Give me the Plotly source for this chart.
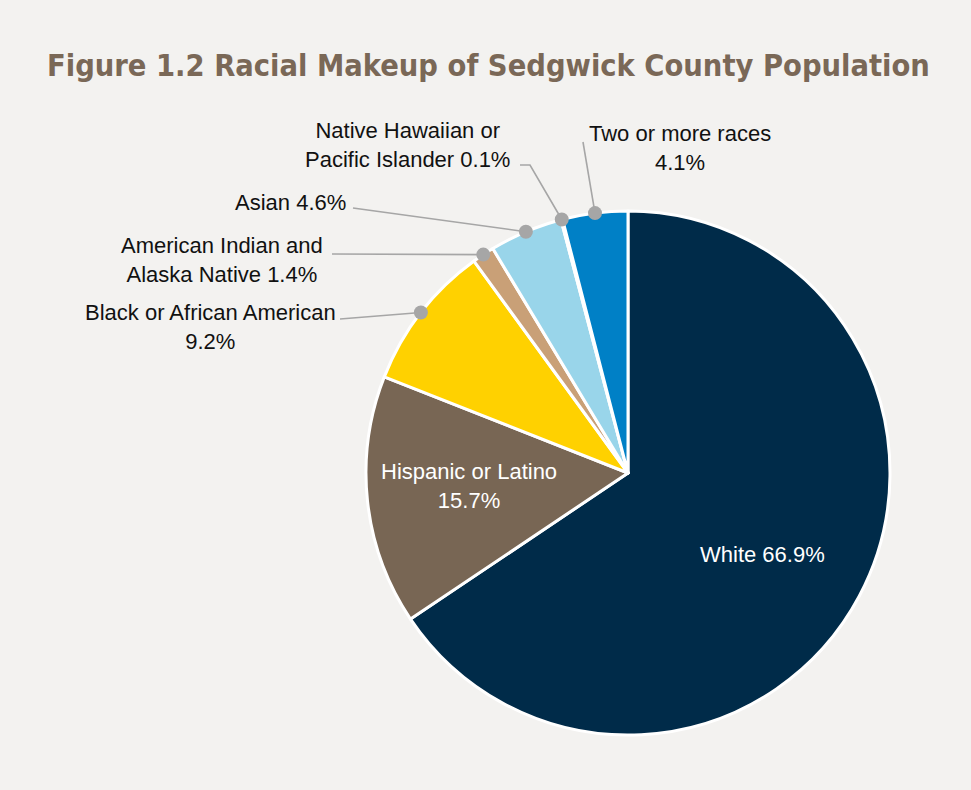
import math
import plotly.graph_objects as go

# ---- data ----
categories = ["White", "Hispanic or Latino", "Black or African American",
              "American Indian and Alaska Native", "Asian",
              "Native Hawaiian or Pacific Islander", "Two or more races"]
percent = [66.9, 15.7, 9.2, 1.4, 4.6, 0.1, 4.1]
label_lines = [["White 66.9%"],
               ["Hispanic or Latino", "15.7%"],
               ["Black or African American", "9.2%"],
               ["American Indian and", "Alaska Native 1.4%"],
               ["Asian 4.6%"],
               ["Native Hawaiian or", "Pacific Islander 0.1%"],
               ["Two or more races", "4.1%"]]
colors = ["#002b49", "#786654", "#ffd100", "#c9a077", "#99d5ea", "#4f6e8a", "#0080c6"]

# ---- layout constants (pixels) ----
W, H = 971, 790
CX, CY, R = 628, 473, 262
BG = "#f3f2f0"
LABEL_FONT = "Liberation Sans, Arial"
LABEL_SIZE = 22

def px(x):
    return x / W

def py(y):
    return 1 - y / H

fig = go.Figure(go.Pie(
    labels=categories, values=percent, sort=False, direction="clockwise",
    rotation=0, textinfo="none", hoverinfo="skip",
    marker=dict(colors=colors, line=dict(color="white", width=3)),
    domain=dict(x=[px(CX - R), px(CX + R)], y=[py(CY + R), py(CY - R)]),
    showlegend=False,
))

total = sum(percent)
mids = []
c = 0
for v in percent:
    mids.append((c + v / 2) / total * 360)
    c += v

def polar(theta, r):
    t = math.radians(theta)
    return CX + r * math.sin(t), CY - r * math.cos(t)

annotations = []
shapes = []

# inside labels (radial fraction, angular nudge)
inside = {0: (0.60, 3.0), 1: (0.61, 1.5)}
for i, (frac, nudge) in inside.items():
    x, y = polar(mids[i] + nudge, R * frac)
    annotations.append(dict(x=px(x), y=py(y), xref="paper", yref="paper",
                            text="<br>".join(label_lines[i]), showarrow=False,
                            font=dict(family=LABEL_FONT, size=LABEL_SIZE, color="white"),
                            align="center", xanchor="center", yanchor="middle"))

# outside labels: text centre and leader-line start (pixels)
outside = {
    2: dict(c=(210, 327), path=[(340, 319)]),
    3: dict(c=(222, 260), path=[(332, 254)]),
    4: dict(c=(290, 202), path=[(353, 208)]),
    5: dict(c=(407, 145), path=[(520, 165), (530, 165)]),
    6: dict(c=(680, 148), path=[(583, 142)]),
}
LINE = "#a6a6a6"
for i, o in outside.items():
    cxl, cyl = o["c"]
    annotations.append(dict(x=px(cxl), y=py(cyl), xref="paper", yref="paper",
                            text="<br>".join(label_lines[i]), showarrow=False,
                            font=dict(family=LABEL_FONT, size=LABEL_SIZE, color="#111111"),
                            align="center", xanchor="center", yanchor="middle"))
    dx, dy = polar(mids[i], R)
    pts = o["path"] + [(dx, dy)]
    path = "M " + " L ".join(f"{px(a):.5f},{py(b):.5f}" for a, b in pts)
    shapes.append(dict(type="path", xref="paper", yref="paper", path=path,
                       line=dict(color=LINE, width=1.6)))
    shapes.append(dict(type="circle", xref="paper", yref="paper",
                       xsizemode="pixel", ysizemode="pixel",
                       xanchor=px(dx), yanchor=py(dy), x0=-7, x1=7, y0=-7, y1=7,
                       fillcolor=LINE, line=dict(width=0)))

annotations.append(dict(x=px(489), y=py(65), xref="paper", yref="paper",
                        text="<b>Figure 1.2 Racial Makeup of Sedgwick County Population</b>",
                        showarrow=False,
                        font=dict(family="DejaVu Sans Condensed, DejaVu Sans", size=30.5, color="#7a6857"),
                        xanchor="center", yanchor="middle"))

fig.update_layout(width=W, height=H, margin=dict(l=0, r=0, t=0, b=0),
                  paper_bgcolor=BG, plot_bgcolor=BG,
                  annotations=annotations, shapes=shapes)

fig.write_html("out.html")
